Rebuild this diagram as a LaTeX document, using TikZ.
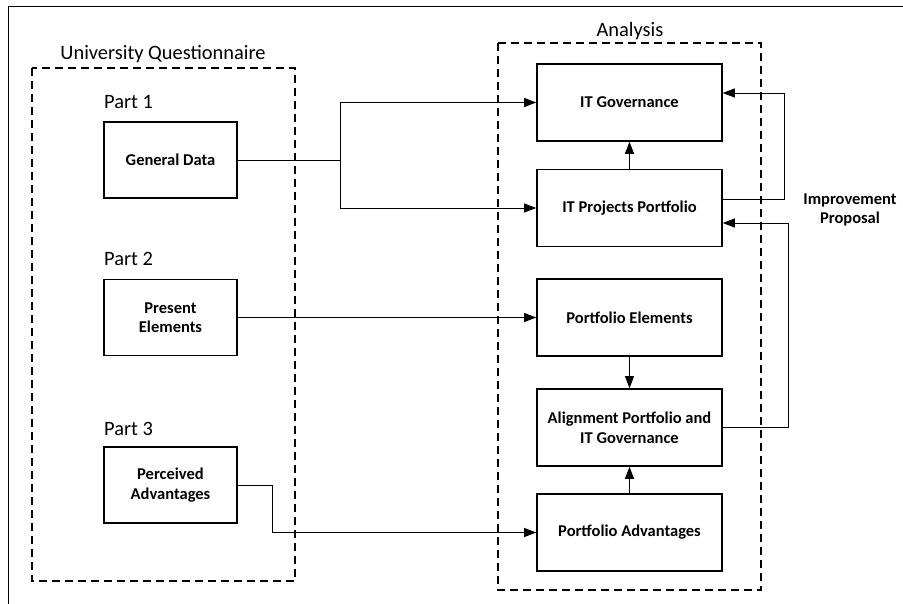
\documentclass[tikz,border=0pt]{standalone}
\usepackage{fontspec}
\setmainfont{Carlito}
\usetikzlibrary{arrows.meta}
\begin{document}
\begin{tikzpicture}[x=1pt,y=-1pt,
  lbox/.style={draw,line width=1.6pt,minimum width=133pt,minimum height=76pt,inner sep=2pt,align=center,font=\fontsize{16.5}{19.5}\selectfont\bfseries},
  rbox/.style={draw,line width=1.6pt,minimum width=185pt,minimum height=77pt,inner sep=2pt,align=center,font=\fontsize{16.5}{20}\selectfont\bfseries},
  grp/.style={draw,line width=1.2pt,dash pattern=on 8pt off 5pt},
  lab/.style={font=\fontsize{20.4}{22}\selectfont,inner sep=0pt},
  arr/.style={line width=0.9pt,-{Triangle[length=12pt,width=9pt]}},
  ln/.style={line width=0.9pt}]
\useasboundingbox (0,0) rectangle (903,604);
\fill[white] (0,0) rectangle (903,604);
\draw[line width=1pt] (8,604) -- (8,7) -- (903,7);
% groups
\draw[grp] (32,68) rectangle (295,581);
\draw[grp] (498,43) rectangle (761,590);
\node[lab] (uq) at (163,54) {University Questionnaire};
\node[lab] (an) at (630,31) {Analysis};
\node[lab,anchor=west] (p1) at (104,102) {Part 1};
\node[lab,anchor=west] (p2) at (104,259) {Part 2};
\node[lab,anchor=west] (p3) at (104,429) {Part 3};
% left boxes
\node[lbox] (gd) at (170.5,160) {General Data};
\node[lbox] (pe) at (170.5,317.5) {Present\\Elements};
\node[lbox] (pa) at (170.5,485) {Perceived\\Advantages};
% right boxes
\node[rbox] (itg) at (629.5,102.5) {IT Governance};
\node[rbox] (itp) at (629.5,208) {IT Projects Portfolio};
\node[rbox] (pel) at (629.5,317.5) {Portfolio Elements};
\node[rbox] (al) at (629.5,427.5) {Alignment Portfolio and\\IT Governance};
\node[rbox] (pad) at (629.5,532.5) {Portfolio Advantages};
\node[font=\fontsize{16.5}{19}\selectfont\bfseries,align=center] (ip) at (850,210) {Improvement\\Proposal};
% connectors
\draw[ln] (gd.east) -- ++(103,0) coordinate (jm);
\draw[arr] (jm) |- (itg.west);
\draw[arr] (jm) |- (itp.west);
\draw[arr] (pe.east) -- (pel.west);
\draw[arr] (pa.east) -- ++(35,0) |- (pad.west);
\draw[arr] (itp.north) -- (itg.south);
\draw[arr] (pel.south) -- (al.north);
\draw[arr] (pad.north) -- (al.south);
\draw[arr] ([yshift=9pt]itp.east) -- ++(62,0) |- ([yshift=9.5pt]itg.east);
\draw[arr] (al.east) -- ++(66,0) |- ([yshift=-15pt]itp.east);
\end{tikzpicture}
\end{document}
